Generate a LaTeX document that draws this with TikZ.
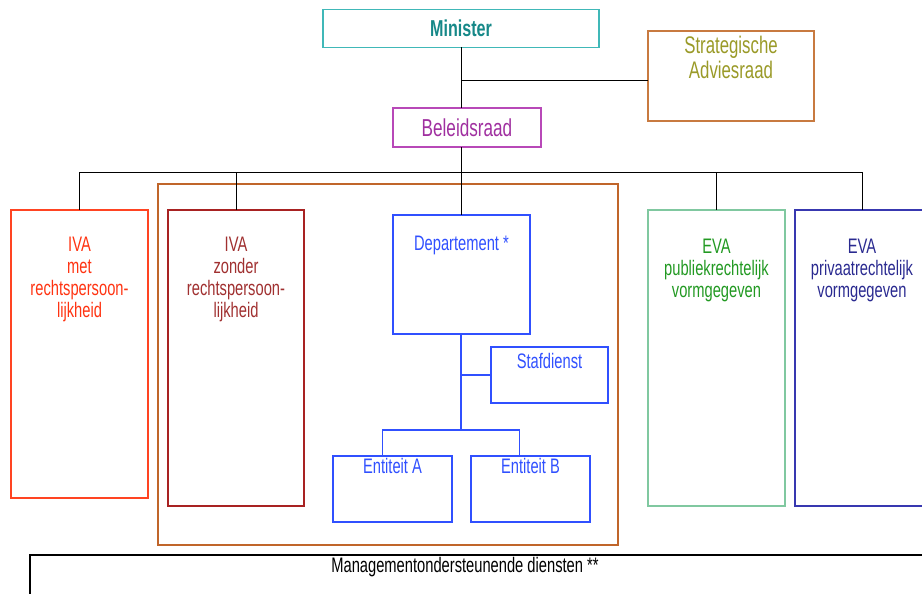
\documentclass[tikz,border=0pt]{standalone}
\usepackage{fontspec}
\setmainfont{Liberation Sans}[FakeStretch=0.7]
\usepackage{xcolor}
\usepackage{tikz}
\definecolor{mincol}{HTML}{40B8B8}
\definecolor{mintxt}{HTML}{168888}
\definecolor{stratcol}{HTML}{C87A40}
\definecolor{strattxt}{HTML}{9A9A28}
\definecolor{belcol}{HTML}{B848B8}
\definecolor{beltxt}{HTML}{A030A0}
\definecolor{vocol}{HTML}{C0652A}
\definecolor{ivametcol}{HTML}{FF4422}
\definecolor{ivamettxt}{HTML}{FF3311}
\definecolor{ivazoncol}{HTML}{A82222}
\definecolor{ivazontxt}{HTML}{A03030}
\definecolor{deptcol}{HTML}{3050FF}
\definecolor{evapubcol}{HTML}{80C8A0}
\definecolor{evapubtxt}{HTML}{229922}
\definecolor{evaprivcol}{HTML}{3838B0}
\definecolor{evaprivtxt}{HTML}{2A2A90}
\tikzstyle{box} = [rectangle, draw, line width=1.3pt, inner sep=0pt, outer sep=0pt, font=\fontsize{24}{25}\selectfont]
\tikzstyle{lbl} = [anchor=north, inner sep=0pt, align=center, font=\fontsize{21}{22}\selectfont]
\tikzstyle{line} = [draw, line width=1pt]
\tikzstyle{bline} = [draw, line width=1.3pt, deptcol]

\begin{document}
\begin{tikzpicture}[x=1pt, y=-1pt]
    \useasboundingbox (0,0) rectangle (922,594);
    \node [box, draw=vocol, minimum width=460pt, minimum height=361pt] (vo) at (388,364.5) {};
    \node [box, draw=mincol, text=mintxt, font=\bfseries\fontsize{23}{25}\selectfont, minimum width=276pt, minimum height=38pt] (minister) at (461,28.5) {Minister};
    \node [box, draw=stratcol, minimum width=166pt, minimum height=90pt,
        label={[lbl, text=strattxt, font=\fontsize{24}{25}\selectfont, yshift=-5pt]north:{Strategische\\Adviesraad}}] (strat) at (731,76) {};
    \node [box, draw=belcol, text=beltxt, font=\fontsize{24.5}{25}\selectfont, minimum width=148pt, minimum height=39pt] (bel) at (467,127.5) {\raisebox{-2pt}{Beleidsraad}};
    \node [box, draw=ivametcol, minimum width=137pt, minimum height=288pt,
        label={[lbl, text=ivamettxt, yshift=-27pt]north:{IVA\\met\\rechtspersoon-\\lijkheid}}] (ivamet) at (79.5,354) {};
    \node [box, draw=ivazoncol, minimum width=136pt, minimum height=296pt,
        label={[lbl, text=ivazontxt, yshift=-27pt]north:{IVA\\zonder\\rechtspersoon-\\lijkheid}}] (ivazonder) at (236,358) {};
    \node [box, draw=deptcol, minimum width=137pt, minimum height=119pt,
        label={[lbl, text=deptcol, yshift=-21pt]north:{Departement *}}] (dept) at (461.5,274.5) {};
    \node [box, draw=deptcol, minimum width=117pt, minimum height=56pt,
        label={[lbl, text=deptcol, yshift=-6pt]north:{Stafdienst}}] (staf) at (549.5,375) {};
    \node [box, draw=deptcol, minimum width=119pt, minimum height=66pt,
        label={[lbl, text=deptcol, yshift=-2pt]north:{Entiteit A}}] (entA) at (392.5,489) {};
    \node [box, draw=deptcol, minimum width=119pt, minimum height=66pt,
        label={[lbl, text=deptcol, yshift=-2pt]north:{Entiteit B}}] (entB) at (530.5,489) {};
    \node [box, draw=evapubcol, minimum width=137pt, minimum height=296pt,
        label={[lbl, text=evapubtxt, yshift=-29pt]north:{EVA\\publiekrechtelijk\\vormgegeven}}] (evapub) at (716.5,358) {};
    \node [box, draw=evaprivcol, minimum width=134pt, minimum height=296pt,
        label={[lbl, text=evaprivtxt, yshift=-29pt]north:{EVA\\privaatrechtelijk\\vormgegeven}}] (evapriv) at (862,358) {};
    \node [box, draw=black, minimum width=900pt, minimum height=50pt,
        label={[lbl, yshift=-2pt, xshift=-15pt]north:{Managementondersteunende diensten **}}] (mgmt) at (480,580) {};

    \coordinate (bus) at (461,172);
    \coordinate (split) at (461,430);
    \coordinate (sa) at ([yshift=-5pt]strat.west);
    \coordinate (ea) at ([xshift=-10pt]entA.north);
    \coordinate (eb) at ([xshift=-11pt]entB.north);

    \path [line] (minister.south) -- (minister.south |- bel.north);
    \path [line] (minister.south |- sa) -- (sa);
    \path [line] (bel.south -| bus) -- (bus);
    \path [line] (ivamet.north |- bus) -- (evapriv.north |- bus);
    \foreach \n in {ivamet, ivazonder, evapub, evapriv}
        \path [line] (\n.north |- bus) -- (\n.north);
    \path [line] (bus) -- (bus |- dept.north);

    \path [bline] (dept.south -| split) -- (split);
    \path [bline] (dept.south |- staf.west) -- (staf.west);
    \path [bline] (ea) |- (split) -| (eb);
\end{tikzpicture}
\end{document}
